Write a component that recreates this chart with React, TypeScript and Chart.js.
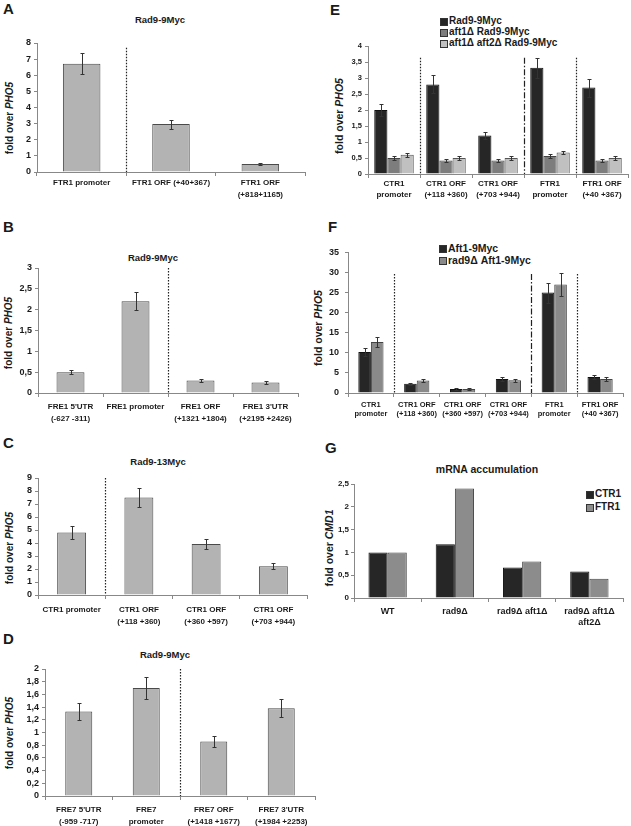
import React, { useEffect, useRef } from "react";
import { Chart, registerables } from "chart.js";
Chart.register(...registerables);

const FONT = "'Liberation Sans', Arial, Helvetica, sans-serif";
Chart.defaults.font.family = FONT;

// ---------- DATA ----------
const aLabels = [["FTR1 promoter"], ["FTR1 ORF (+40+367)"], ["FTR1 ORF", "(+818+1165)"]];
const aValues = [6.72, 2.97, 0.5];
const aErrors = [0.65, 0.28, 0.05];

const bLabels = [["FRE1 5'UTR", "(-627 -311)"], ["FRE1 promoter"], ["FRE1 ORF", "(+1321 +1804)"], ["FRE1 3'UTR", "(+2195 +2426)"]];
const bValues = [0.5, 2.2, 0.3, 0.25];
const bErrors = [0.05, 0.22, 0.03, 0.03];

const cLabels = [["CTR1 promoter"], ["CTR1 ORF", "(+118 +360)"], ["CTR1 ORF", "(+360 +597)"], ["CTR1 ORF", "(+703 +944)"]];
const cValues = [4.8, 7.5, 3.93, 2.22];
const cErrors = [0.5, 0.76, 0.38, 0.22];

const dLabels = [["FRE7 5'UTR", "(-959 -717)"], ["FRE7", "promoter"], ["FRE7 ORF", "(+1418 +1677)"], ["FRE7 3'UTR", "(+1984 +2253)"]];
const dValues = [1.33, 1.7, 0.86, 1.38];
const dErrors = [0.14, 0.17, 0.09, 0.14];

const eLabels = [["CTR1", "promoter"], ["CTR1 ORF", "(+118 +360)"], ["CTR1 ORF", "(+703 +944)"], ["FTR1", "promoter"], ["FTR1 ORF", "(+40 +367)"]];
const eSeries = ["Rad9-9Myc", "aft1Δ Rad9-9Myc", "aft1Δ aft2Δ Rad9-9Myc"];
const eRad9 = [2.0, 2.8, 1.2, 3.32, 2.7];
const eRad9Err = [0.2, 0.28, 0.12, 0.32, 0.28];
const eAft1 = [0.5, 0.42, 0.42, 0.56, 0.42];
const eAft1Err = [0.05, 0.04, 0.04, 0.06, 0.04];
const eAft12 = [0.6, 0.5, 0.5, 0.67, 0.5];
const eAft12Err = [0.06, 0.05, 0.05, 0.06, 0.05];

const fLabels = [["CTR1", "promoter"], ["CTR1 ORF", "(+118 +360)"], ["CTR1 ORF", "(+360 +597)"], ["CTR1 ORF", "(+703 +944)"], ["FTR1", "promoter"], ["FTR1 ORF", "(+40 +367)"]];
const fSeries = ["Aft1-9Myc", "rad9Δ Aft1-9Myc"];
const fAft1 = [10.2, 2.3, 1.0, 3.5, 25.0, 4.0];
const fAft1Err = [1.1, 0.3, 0.15, 0.4, 2.5, 0.45];
const fRad9 = [12.7, 3.1, 1.0, 3.2, 27.0, 3.5];
const fRad9Err = [1.3, 0.35, 0.15, 0.4, 2.8, 0.4];

const gLabels = [["WT"], ["rad9Δ"], ["rad9Δ aft1Δ"], ["rad9Δ aft1Δ", "aft2Δ"]];
const gSeries = ["CTR1", "FTR1"];
const gCTR1 = [1.0, 1.18, 0.67, 0.58];
const gFTR1 = [1.0, 2.4, 0.8, 0.42];

// ---------- STYLE ----------
const GRAY = "#b3b3b3";
const GRAY_B = "#4a4a4a";
const DARK = "#262626";
const MID = "#7d7d7d";
const LIGHT = "#c0c0c0";
const TXT = "#1a1a1a";

type DS = { label: string; values: number[]; errors?: number[]; color: string; border: string };
type Sep = { after: number; style: "dot" | "dashdot"; top?: number };
type PanelProps = {
  labels: string[][];
  datasets: DS[];
  yMax: number;
  yStep: number;
  area: [number, number, number, number];
  catPct: number;
  barPct: number;
  seps: Sep[];
  tickSize: number;
  tickPad: number;
  labelSize: number;
  labelLH: number;
  labelPad: number;
};

const padL = 34, padT = 10, padR = 4, padB = 40;

function fmt(v: number) {
  const r = Math.round(v * 100) / 100;
  return String(r).replace(".", ",");
}

function Panel(p: PanelProps) {
  const ref = useRef<HTMLCanvasElement | null>(null);
  const [x0, x1, yTop, yBot] = p.area;
  const w = x1 - x0 + padL + padR;
  const h = yBot - yTop + padT + padB;
  useEffect(() => {
    if (!ref.current) return;
    const overlay = {
      id: "overlay",
      afterDatasetsDraw(chart: any) {
        const ctx = chart.ctx;
        const xs = chart.scales.x;
        const ys = chart.scales.y;
        const ca = chart.chartArea;
        ctx.save();
        ctx.strokeStyle = "#333";
        ctx.lineWidth = 1;
        chart.data.datasets.forEach((ds: any, di: number) => {
          if (!ds.errors) return;
          const meta = chart.getDatasetMeta(di);
          meta.data.forEach((el: any, i: number) => {
            const v = ds.data[i];
            const e = ds.errors[i];
            const yt = Math.round(ys.getPixelForValue(v + e)) + 0.5;
            const yb = Math.round(ys.getPixelForValue(v - e)) + 0.5;
            const x = Math.round(el.x) + 0.5;
            ctx.beginPath();
            ctx.moveTo(x, yt);
            ctx.lineTo(x, yb);
            ctx.moveTo(x - 2, yt);
            ctx.lineTo(x + 2, yt);
            ctx.moveTo(x - 2, yb);
            ctx.lineTo(x + 2, yb);
            ctx.stroke();
          });
        });
        p.seps.forEach((s) => {
          const x = Math.round((xs.getPixelForValue(s.after) + xs.getPixelForValue(s.after + 1)) / 2) + 0.5;
          const yt = s.top != null ? ys.getPixelForValue(s.top) : ca.top;
          ctx.setLineDash(s.style === "dot" ? [1.5, 1.5] : [6, 2, 1.5, 2]);
          ctx.strokeStyle = "#222";
          ctx.lineWidth = 1.2;
          ctx.beginPath();
          ctx.moveTo(x, yt);
          ctx.lineTo(x, ca.bottom);
          ctx.stroke();
        });
        ctx.restore();
      },
    };
    const chart = new Chart(ref.current, {
      type: "bar",
      data: {
        labels: p.labels,
        datasets: p.datasets.map((d) => ({
          label: d.label,
          data: d.values,
          errors: d.errors,
          backgroundColor: d.color,
          borderColor: d.border,
          borderWidth: 1,
          categoryPercentage: p.catPct,
          barPercentage: p.barPct,
        })) as any,
      },
      options: {
        responsive: false,
        animation: false,
        layout: { padding: { top: padT, right: padR, left: 0, bottom: 0 } },
        plugins: { legend: { display: false }, title: { display: false }, tooltip: { enabled: false } },
        scales: {
          x: {
            grid: { display: true, drawOnChartArea: false, drawTicks: true, tickLength: 4, offset: true, color: "#888" },
            border: { color: "#888" },
            ticks: {
              font: { size: p.labelSize, weight: "bold", lineHeight: p.labelLH + "px" },
              color: TXT,
              padding: p.labelPad,
              maxRotation: 0,
              minRotation: 0,
              autoSkip: false,
            },
            afterFit: (s: any) => {
              s.height = padB;
            },
          },
          y: {
            min: 0,
            max: p.yMax,
            ticks: {
              stepSize: p.yStep,
              autoSkip: false,
              callback: (v: any) => fmt(Number(v)),
              font: { size: p.tickSize, weight: "bold" },
              color: TXT,
              padding: p.tickPad,
            },
            grid: { drawOnChartArea: false, tickLength: 3, color: "#888" },
            border: { color: "#888" },
            afterFit: (s: any) => {
              s.width = padL;
            },
          },
        },
      },
      plugins: [overlay],
    } as any);
    return () => chart.destroy();
  }, []);
  return (
    <canvas
      ref={ref}
      width={w}
      height={h}
      style={{ position: "absolute", left: x0 - padL, top: yTop - padT, width: w, height: h }}
    />
  );
}

function T(props: { x: number; y: number; size: number; children: any; left?: boolean }) {
  return (
    <div
      style={{
        position: "absolute",
        left: props.x,
        top: props.y,
        transform: props.left ? "translate(0,-50%)" : "translate(-50%,-50%)",
        fontSize: props.size,
        fontWeight: "bold",
        whiteSpace: "nowrap",
        lineHeight: 1,
        color: TXT,
      }}
    >
      {props.children}
    </div>
  );
}

function YT(props: { x: number; y: number; size: number; gene: string }) {
  return (
    <div
      style={{
        position: "absolute",
        left: props.x,
        top: props.y,
        transform: "translate(-50%,-50%) rotate(-90deg)",
        fontSize: props.size,
        fontWeight: "bold",
        whiteSpace: "nowrap",
        lineHeight: 1,
        color: TXT,
      }}
    >
      fold over <i>{props.gene}</i>
    </div>
  );
}

function Leg(props: { x: number; y: number; color: string; text: string; size: number }) {
  return (
    <>
      <div
        style={{
          position: "absolute",
          left: props.x,
          top: props.y - 3.5,
          width: 6,
          height: 6,
          background: props.color,
          border: "0.5px solid #333",
        }}
      />
      <T x={props.x + 9} y={props.y} size={props.size} left>
        {props.text}
      </T>
    </>
  );
}

export default function App() {
  return (
    <div
      style={{
        position: "absolute",
        left: 0,
        top: 0,
        width: 631,
        height: 826,
        overflow: "hidden",
        background: "#fff",
        fontFamily: FONT,
      }}
    >
      {/* Panel letters */}
      <T x={3} y={8} size={15} left>A</T>
      <T x={3} y={226} size={15} left>B</T>
      <T x={3} y={442} size={15} left>C</T>
      <T x={3} y={638} size={15} left>D</T>
      <T x={330} y={9} size={15} left>E</T>
      <T x={328} y={226} size={15} left>F</T>
      <T x={325} y={447} size={15} left>G</T>

      {/* A */}
      <T x={160} y={20} size={9.5}>Rad9-9Myc</T>
      <YT x={10} y={118} size={10} gene="PHO5" />
      <Panel
        labels={aLabels}
        datasets={[{ label: "Rad9-9Myc", values: aValues, errors: aErrors, color: GRAY, border: GRAY_B }]}
        yMax={8}
        yStep={1}
        area={[37, 305, 43, 172]}
        catPct={1}
        barPct={0.42}
        seps={[{ after: 0, style: "dot", top: 7.7 }]}
        tickSize={9}
        tickPad={3}
        labelSize={8}
        labelLH={12}
        labelPad={1}
      />

      {/* B */}
      <T x={153} y={258} size={9.5}>Rad9-9Myc</T>
      <YT x={9} y={333} size={10} gene="PHO5" />
      <Panel
        labels={bLabels}
        datasets={[{ label: "Rad9-9Myc", values: bValues, errors: bErrors, color: GRAY, border: GRAY_B }]}
        yMax={3}
        yStep={0.5}
        area={[38, 298, 268, 393]}
        catPct={1}
        barPct={0.43}
        seps={[{ after: 1, style: "dot" }]}
        tickSize={9}
        tickPad={3}
        labelSize={8}
        labelLH={12}
        labelPad={4}
      />

      {/* C */}
      <T x={158} y={462} size={9.5}>Rad9-13Myc</T>
      <YT x={10} y={548} size={10} gene="PHO5" />
      <Panel
        labels={cLabels}
        datasets={[{ label: "Rad9-13Myc", values: cValues, errors: cErrors, color: GRAY, border: GRAY_B }]}
        yMax={9}
        yStep={1}
        area={[38, 307, 478, 595]}
        catPct={1}
        barPct={0.43}
        seps={[{ after: 0, style: "dot" }]}
        tickSize={9}
        tickPad={3}
        labelSize={8}
        labelLH={12}
        labelPad={5}
      />

      {/* D */}
      <T x={165} y={655} size={9.5}>Rad9-9Myc</T>
      <YT x={10} y={733} size={10} gene="PHO5" />
      <Panel
        labels={dLabels}
        datasets={[{ label: "Rad9-9Myc", values: dValues, errors: dErrors, color: GRAY, border: GRAY_B }]}
        yMax={2}
        yStep={0.2}
        area={[45, 315, 669, 796]}
        catPct={1}
        barPct={0.4}
        seps={[{ after: 1, style: "dot" }]}
        tickSize={9}
        tickPad={3}
        labelSize={8}
        labelLH={12}
        labelPad={4}
      />

      {/* E */}
      <Leg x={440} y={21} color={DARK} text={eSeries[0]} size={10} />
      <Leg x={440} y={32} color={MID} text={eSeries[1]} size={10} />
      <Leg x={440} y={43} color={LIGHT} text={eSeries[2]} size={10} />
      <YT x={339} y={116} size={10.5} gene="PHO5" />
      <Panel
        labels={eLabels}
        datasets={[
          { label: eSeries[0], values: eRad9, errors: eRad9Err, color: DARK, border: "#111" },
          { label: eSeries[1], values: eAft1, errors: eAft1Err, color: MID, border: "#444" },
          { label: eSeries[2], values: eAft12, errors: eAft12Err, color: LIGHT, border: "#555" },
        ]}
        yMax={4}
        yStep={0.5}
        area={[368, 628, 46, 174]}
        catPct={0.76}
        barPct={1}
        seps={[
          { after: 0, style: "dot", top: 3.63 },
          { after: 2, style: "dashdot", top: 3.63 },
          { after: 3, style: "dot", top: 3.63 },
        ]}
        tickSize={7.5}
        tickPad={3}
        labelSize={8}
        labelLH={11.5}
        labelPad={0}
      />

      {/* F */}
      <Leg x={439} y={248} color={DARK} text={fSeries[0]} size={10.5} />
      <Leg x={439} y={260} color={"#8a8a8a"} text={fSeries[1]} size={10.5} />
      <YT x={318} y={328} size={10.5} gene="PHO5" />
      <Panel
        labels={fLabels}
        datasets={[
          { label: fSeries[0], values: fAft1, errors: fAft1Err, color: DARK, border: "#111" },
          { label: fSeries[1], values: fRad9, errors: fRad9Err, color: "#8a8a8a", border: "#444" },
        ]}
        yMax={35}
        yStep={5}
        area={[348, 623, 251, 393]}
        catPct={0.55}
        barPct={1}
        seps={[
          { after: 0, style: "dot", top: 29.6 },
          { after: 3, style: "dashdot", top: 29.6 },
          { after: 4, style: "dot", top: 29.6 },
        ]}
        tickSize={9}
        tickPad={6}
        labelSize={7.5}
        labelLH={9}
        labelPad={3.5}
      />

      {/* G */}
      <T x={487} y={469} size={10.5}>mRNA accumulation</T>
      <Leg x={586} y={494} color={DARK} text={gSeries[0]} size={10} />
      <Leg x={586} y={507} color={"#8c8c8c"} text={gSeries[1]} size={10} />
      <YT x={329} y={548} size={10.5} gene="CMD1" />
      <Panel
        labels={gLabels}
        datasets={[
          { label: gSeries[0], values: gCTR1, color: DARK, border: "#111" },
          { label: gSeries[1], values: gFTR1, color: "#8c8c8c", border: "#444" },
        ]}
        yMax={2.5}
        yStep={0.5}
        area={[354, 623, 484, 598]}
        catPct={0.57}
        barPct={1}
        seps={[]}
        tickSize={8}
        tickPad={2}
        labelSize={9}
        labelLH={11}
        labelPad={4.5}
      />
    </div>
  );
}
